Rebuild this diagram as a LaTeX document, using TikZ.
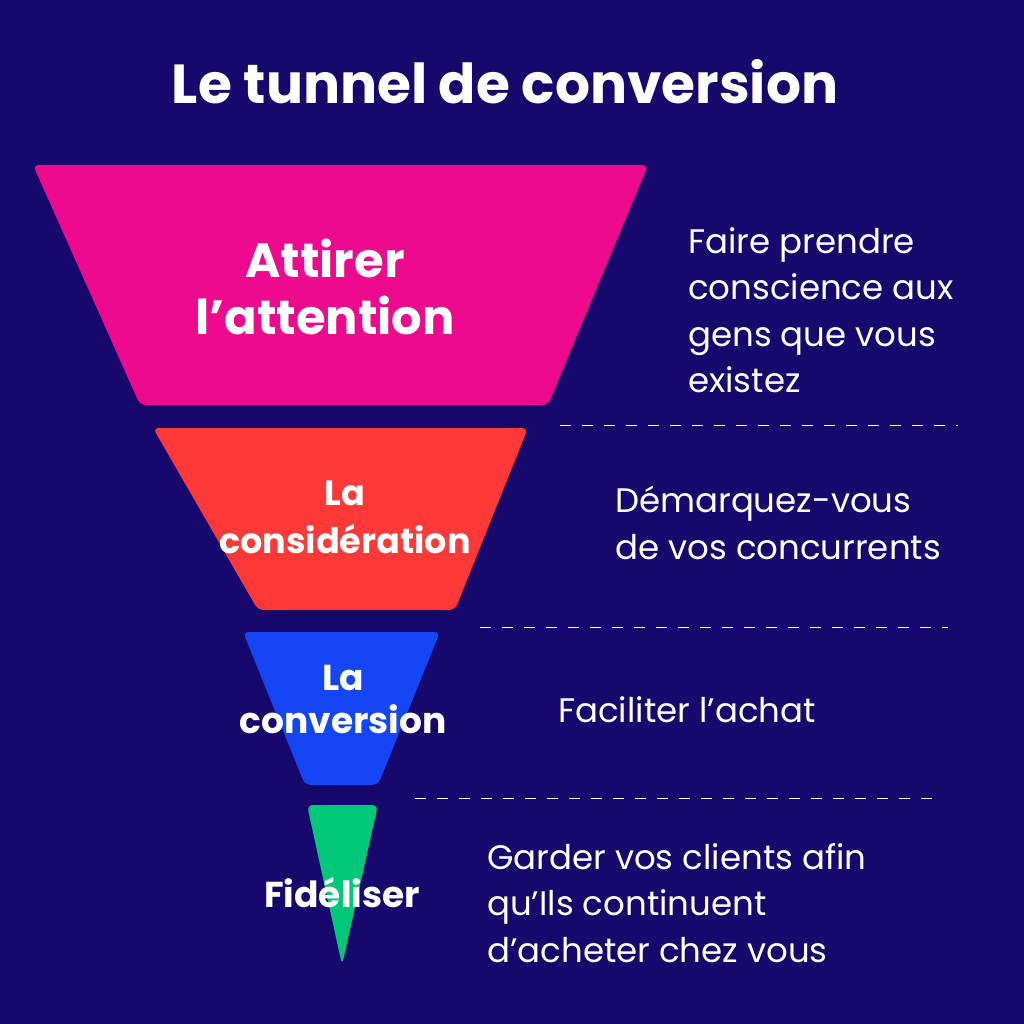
\documentclass[tikz,border=0pt]{standalone}
\usepackage{fontspec}
\setmainfont{Poppins}
\usetikzlibrary{positioning}
\definecolor{navy}{RGB}{22,8,108}
\definecolor{pinkstage}{RGB}{238,10,140}
\definecolor{redstage}{RGB}{255,56,56}
\definecolor{bluestage}{RGB}{20,70,245}
\definecolor{greenstage}{RGB}{0,200,120}
\begin{document}
\begin{tikzpicture}[x=1pt,y=-1pt,
    stage/.style={rounded corners=6pt},
    stagetext/.style={text=white,font=\bfseries,align=center,inner sep=0pt},
    note/.style={text=white,anchor=west,align=left,inner sep=0pt},
    sep/.style={white,dash pattern=on 11pt off 11pt,line width=1pt}]
    \fill[navy] (0,0) rectangle (1024,1024);
    \useasboundingbox (0,0) rectangle (1024,1024);

    % title
    \node[stagetext,font=\bfseries\fontsize{55}{60}\selectfont] (title) at (505,82) {Le tunnel de conversion};

    % stages
    \fill[pinkstage,stage] (33,165) -- (648,165) -- (548,405) -- (140,405) -- cycle;
    \fill[redstage,stage] (153,428) -- (528,428) -- (455,610) -- (258,610) -- cycle;
    \fill[bluestage,stage] (243,632) -- (440,632) -- (378,785) -- (305,785) -- cycle;
    \fill[greenstage,stage] (307,805) -- (378,805) -- (342,965) -- cycle;

    \node[stagetext,font=\bfseries\fontsize{48}{57}\selectfont] (attirer) at (325,287) {Attirer\\l’attention};
    \node[stagetext,font=\bfseries\fontsize{35}{48}\selectfont] (consid) at (345,517) {La\\considération};
    \node[stagetext,font=\bfseries\fontsize{36}{43}\selectfont] (conv) at (343,699) {La\\conversion};
    \node[stagetext,font=\bfseries\fontsize{36}{40}\selectfont] (fidel) at (342,893) {Fidéliser};

    % separators
    \draw[sep] (560,425) -- (958,425);
    \draw[sep] (480,627) -- (948,627);
    \draw[sep] (415,798) -- (937,798);

    % notes
    \node[note,font=\fontsize{34}{46.5}\selectfont] (n1) at (688,310) {Faire prendre\\conscience aux\\gens que vous\\existez};
    \node[note,font=\fontsize{34}{47}\selectfont] (n2) at (615,523) {Démarquez-vous\\de vos concurrents};
    \node[note,font=\fontsize{34}{46}\selectfont] (n3) at (558,710) {Faciliter l’achat};
    \node[note,font=\fontsize{34}{46.5}\selectfont] (n4) at (487,903) {Garder vos clients afin\\qu’Ils continuent\\d’acheter chez vous};
\end{tikzpicture}
\end{document}
